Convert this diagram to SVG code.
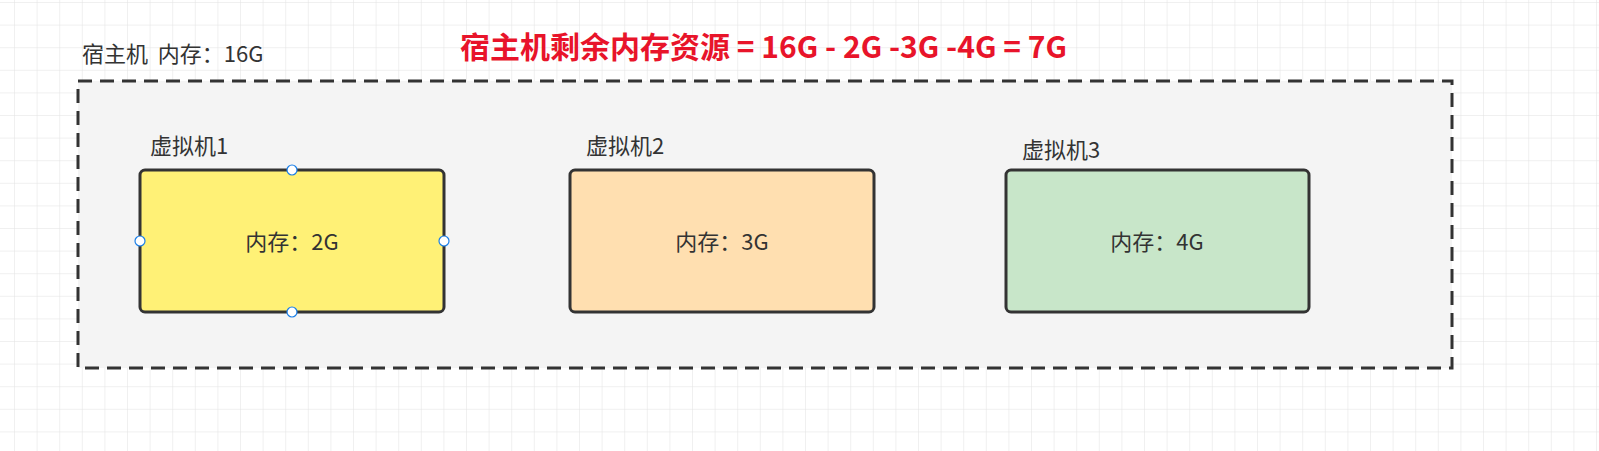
<svg xmlns="http://www.w3.org/2000/svg" width="1599" height="451" viewBox="0 0 1599 451">
<style>
text{font-family:"Noto Sans CJK SC","Noto Sans",sans-serif;fill:#333;font-size:22px;white-space:pre}
.vm{stroke:#333;stroke-width:3}
.h{fill:#fff;stroke:#1a7fe8;stroke-width:1.2}
</style>
<defs>
<pattern id="g" width="22.6" height="22.6" patternUnits="userSpaceOnUse" x="15" y="3">
<path d="M22.6 0V22.6M0 22.6H22.6" fill="none" stroke="#e2e2e2" stroke-width="1"/>
</pattern>
</defs>
<rect width="1599" height="451" fill="#fff"/>
<rect width="1599" height="451" fill="url(#g)"/>
<g id="host">
<rect x="78" y="81" width="1374" height="287" fill="#f4f4f4" stroke="#333" stroke-width="3" stroke-dasharray="14,8"/>
<text x="82" y="62" xml:space="preserve">宿主机  内存：16G</text>
</g>
<text x="460" y="58" style="fill:#e8142a;font-weight:bold;font-size:30px" xml:space="preserve">宿主机剩余内存资源 = 16G - 2G -3G -4G = 7G</text>
<g id="vm1">
<text x="150" y="154">虚拟机1</text>
<rect class="vm" x="140" y="170" width="304" height="142" rx="5" fill="#fff176"/>
<text x="292" y="250" text-anchor="middle">内存：2G</text>
<circle class="h" cx="292" cy="170" r="5"/><circle class="h" cx="292" cy="312" r="5"/>
<circle class="h" cx="140" cy="241" r="5"/><circle class="h" cx="444" cy="241" r="5"/>
</g>
<g id="vm2">
<text x="586" y="154">虚拟机2</text>
<rect class="vm" x="570" y="170" width="304" height="142" rx="5" fill="#ffdfb0"/>
<text x="722" y="250" text-anchor="middle">内存：3G</text>
</g>
<g id="vm3">
<text x="1022" y="158">虚拟机3</text>
<rect class="vm" x="1006" y="170" width="303" height="142" rx="5" fill="#c8e6c9"/>
<text x="1157" y="250" text-anchor="middle">内存：4G</text>
</g>
<g id="connectors"/>
</svg>
